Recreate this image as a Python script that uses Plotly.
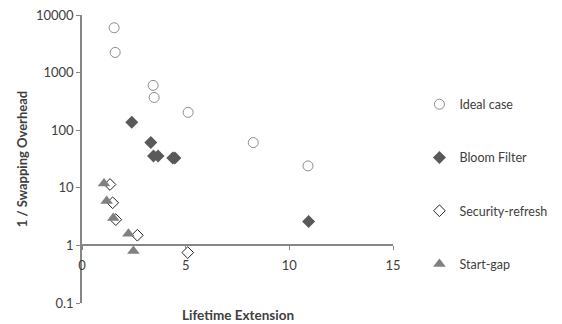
import plotly.graph_objects as go

# Data
ideal_x = [1.55, 1.6, 3.43, 3.48, 5.12, 8.26, 10.9]
ideal_y = [6000, 2240, 600, 370, 204, 61, 24]

bloom_x = [2.4, 3.32, 3.45, 3.67, 4.38, 4.48, 10.93]
bloom_y = [138, 61, 35.6, 35.6, 33, 33, 2.6]

secref_x = [1.35, 1.48, 1.63, 2.67, 5.1]
secref_y = [11.4, 5.5, 2.8, 1.5, 0.75]

startgap_x = [1.06, 1.19, 1.51, 2.24, 2.48]
startgap_y = [11.9, 5.9, 3.0, 1.6, 0.8]

x_ticks = [0, 5, 10, 15]
y_ticks = [0.1, 1, 10, 100, 1000, 10000]
y_ticklabels = ["0.1", "1", "10", "100", "1000", "10000"]

FONT = "Lato, 'Open Sans', sans-serif"
AXIS = "#868686"
TXT = "#404040"

fig = go.Figure()
fig.add_trace(go.Scatter(
    x=ideal_x, y=ideal_y, mode="markers", name="Ideal case", legendgroup="a",
    marker=dict(symbol="circle-open", size=10, color="#8c8c8c", line=dict(width=1, color="#8c8c8c"))))
fig.add_trace(go.Scatter(
    x=bloom_x, y=bloom_y, mode="markers", name="Bloom Filter", legendgroup="b",
    marker=dict(symbol="diamond", size=10, color="#595959", line=dict(width=0))))
fig.add_trace(go.Scatter(
    x=secref_x, y=secref_y, mode="markers", name="Security-refresh", legendgroup="c",
    marker=dict(symbol="diamond-open", size=9, color="#262626", line=dict(width=1, color="#262626"))))
fig.add_trace(go.Scatter(
    x=startgap_x, y=startgap_y, mode="markers", name="Start-gap", legendgroup="d",
    marker=dict(symbol="triangle-up", size=11, color="#808080", line=dict(width=0))))

fig.update_layout(
    width=562, height=324,
    margin=dict(l=82, r=169, t=15, b=21, autoexpand=False),
    paper_bgcolor="white", plot_bgcolor="white",
    font=dict(family=FONT, size=13, color=TXT),
    showlegend=True,
    legend=dict(x=1.085, xanchor="left", y=0.741, yanchor="top",
                tracegroupgap=34, font=dict(size=12.5, color=TXT),
                itemwidth=30, bgcolor="rgba(0,0,0,0)"),
    xaxis=dict(range=[0, 15], tickvals=x_ticks, showgrid=False, zeroline=False,
               showline=True, linecolor=AXIS, linewidth=1.5,
               ticks="outside", ticklen=4, tickcolor=AXIS, tickwidth=1,
               anchor="free", position=0.2, ticklabelstandoff=4,
               tickfont=dict(size=13, color=TXT)),
    yaxis=dict(type="log", range=[-1, 4], tickvals=y_ticks, ticktext=y_ticklabels,
               showgrid=False, zeroline=False,
               showline=True, linecolor=AXIS, linewidth=1.5,
               ticks="outside", ticklen=4, tickcolor=AXIS, tickwidth=1,
               tickfont=dict(size=13, color=TXT),
               title=dict(text="<b>1 / Swapping Overhead</b>", font=dict(size=13, color=TXT), standoff=5)),
    annotations=[dict(text="<b>Lifetime Extension</b>", xref="paper", yref="paper",
                      x=0.5, y=-0.042, xanchor="center", yanchor="middle",
                      showarrow=False, font=dict(size=13.5, color=TXT))],
)

fig.write_html("out.html")
